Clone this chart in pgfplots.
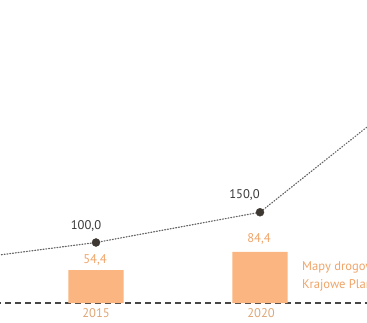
\documentclass[border=0pt]{standalone}
\usepackage{pgfplots}
\pgfplotsset{compat=1.18}
\usepackage{fontspec}
\setmainfont{PT Sans}
\definecolor{barfill}{RGB}{251,181,128}
\definecolor{lblorange}{RGB}{240,164,104}
\definecolor{yearcol}{RGB}{222,166,116}
\definecolor{markcol}{RGB}{62,56,50}
\definecolor{linecol}{RGB}{100,100,100}
\definecolor{basecol}{RGB}{70,70,70}
\begin{document}
\begin{tikzpicture}
\path[use as bounding box, clip] (0,0) rectangle (367pt,322pt);
\begin{axis}[
  at={(0,0)}, anchor=south west,
  scale only axis, width=367pt, height=322pt,
  xmin=2012.073, xmax=2023.262,
  ymin=-31.4, ymax=500.8,
  axis lines=none, ticks=none,
  clip=true,
]
% baseline
\addplot[basecol, line width=1.4pt, dash pattern=on 6pt off 4pt] coordinates {(2011,0) (2024,0)};
% bars
\addplot[ybar, bar width=1.68, fill=barfill, draw=none] coordinates {(2015,54.4) (2020,84.4)};
% dotted line
\addplot[linecol, line width=1.2pt, dash pattern=on 0.9pt off 1.9pt, line cap=round] coordinates {(2010,65) (2015,100) (2020,150) (2025,366)};
% markers
\addplot[only marks, mark=*, mark size=4pt, markcol, mark options={draw=markcol, fill=markcol}] coordinates {(2015,100) (2020,150)};
\end{axis}
\fontsize{12.6}{14}\selectfont
\node[inner sep=0, text=black!78] at (86pt,96pt) {100,0};
\node[inner sep=0, text=black!78] at (244.5pt,127pt) {150,0};
\node[inner sep=0, text=lblorange] at (95pt,62pt) {54,4};
\node[inner sep=0, text=lblorange] at (259pt,83pt) {84,4};
\node[inner sep=0, text=yearcol] at (96pt,9pt) {2015};
\node[inner sep=0, text=yearcol] at (261pt,9pt) {2020};
\node[inner sep=0, text=lblorange, anchor=base west] at (302pt,52pt) {Mapy drogowe i};
\node[inner sep=0, text=lblorange, anchor=base west] at (302pt,34pt) {Krajowe Plany};
\end{tikzpicture}
\end{document}
